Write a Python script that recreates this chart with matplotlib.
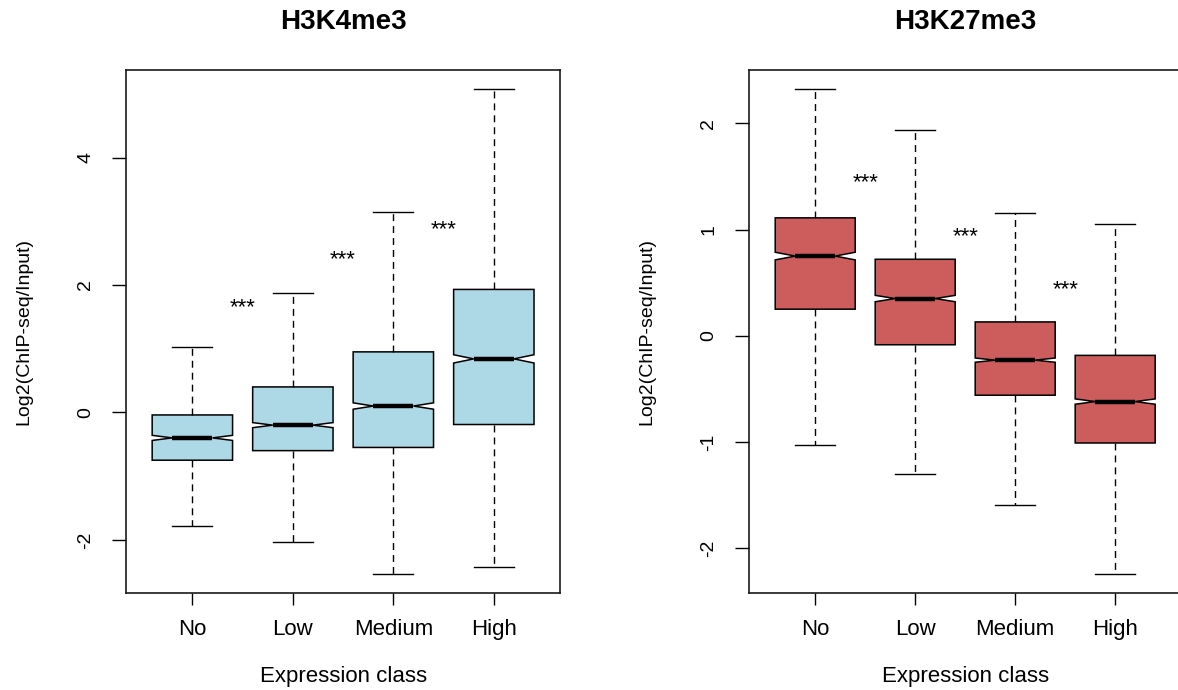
import numpy as np
import matplotlib.pyplot as plt
from matplotlib.transforms import offset_copy

plt.rcParams['font.family'] = ['Liberation Sans', 'DejaVu Sans']

classes = ['No', 'Low', 'Medium', 'High']

# H3K4me3 box statistics
k4_whislo = [-1.79, -2.04, -2.53, -2.43]
k4_q1 = [-0.75, -0.60, -0.55, -0.19]
k4_med = [-0.40, -0.20, 0.10, 0.84]
k4_q3 = [-0.04, 0.40, 0.95, 1.93]
k4_whishi = [1.02, 1.87, 3.15, 5.07]
k4_notch = [0.04, 0.04, 0.05, 0.065]
k4_stars = [1.71, 2.46, 2.93]
k4_yticks = [-2, 0, 2, 4]

# H3K27me3 box statistics
k27_whislo = [-1.03, -1.30, -1.59, -2.24]
k27_q1 = [0.25, -0.085, -0.56, -1.01]
k27_med = [0.75, 0.35, -0.23, -0.62]
k27_q3 = [1.11, 0.72, 0.13, -0.185]
k27_whishi = [2.32, 1.94, 1.16, 1.05]
k27_notch = [0.036, 0.03, 0.02, 0.025]
k27_stars = [1.48, 0.97, 0.47]
k27_yticks = [-2, -1, 0, 1, 2]


def panel(ax, title, whislo, q1, med, q3, whishi, notch, stars, yticks, color):
    stats = []
    for i in range(len(classes)):
        stats.append(dict(whislo=whislo[i], q1=q1[i], med=med[i], q3=q3[i],
                          whishi=whishi[i], cilo=med[i] - notch[i],
                          cihi=med[i] + notch[i], fliers=[]))
    pos = np.arange(1, len(classes) + 1)
    ax.bxp(stats, positions=pos, widths=0.8, shownotches=True, patch_artist=True,
           boxprops=dict(facecolor=color, edgecolor='black', linewidth=1.1),
           medianprops=dict(color='black', linewidth=3.2, solid_capstyle='butt'),
           whiskerprops=dict(color='black', linewidth=1.0, linestyle=(0, (5, 3.6))),
           capprops=dict(color='black', linewidth=1.0))

    # R-style limits: 4% padding
    n = len(classes)
    ax.set_xlim(0.5 - 0.04 * n, n + 0.5 + 0.04 * n)
    lo, hi = min(whislo), max(whishi)
    ax.set_ylim(lo - 0.04 * (hi - lo), hi + 0.04 * (hi - lo))

    ax.set_xticks(pos)
    ax.set_xticklabels(classes)
    ax.set_yticks(yticks)
    ax.set_yticklabels([str(t) for t in yticks])
    ax.tick_params(axis='x', length=8.6, width=1, pad=10, labelsize=16)
    ax.tick_params(axis='y', length=10, width=1, pad=13, labelsize=14, labelrotation=90)
    for lab in ax.get_yticklabels():
        lab.set_va('center')
    for s in ax.spines.values():
        s.set_linewidth(1.2)
        s.set_color('#1a1a1a')

    ax.set_title(title, fontweight='bold', fontsize=20, y=1.092, va='center', pad=0)
    ax.set_xlabel('Expression class', fontsize=16)
    ax.xaxis.label.set_va('center')
    ax.xaxis.set_label_coords(0.5, -0.159)
    ax.set_ylabel('Log2(ChIP-seq/Input)', fontsize=14)
    ax.yaxis.label.set_va('center')
    ax.yaxis.set_label_coords(-0.236, 0.5)

    tr = offset_copy(ax.transData, fig=ax.figure, x=0, y=-3, units='points')
    for i, y in enumerate(stars):
        ax.text(pos[i] + 0.5, y, '***', fontsize=16, ha='center', va='center',
                transform=tr)


fig = plt.figure(figsize=(11.78, 6.9), dpi=100)
ax1 = fig.add_axes([0.107, 0.1406, 0.3685, 0.758])
ax2 = fig.add_axes([0.636, 0.1406, 0.3667, 0.758])

panel(ax1, 'H3K4me3', k4_whislo, k4_q1, k4_med, k4_q3, k4_whishi, k4_notch,
      k4_stars, k4_yticks, '#ADD8E6')
panel(ax2, 'H3K27me3', k27_whislo, k27_q1, k27_med, k27_q3, k27_whishi, k27_notch,
      k27_stars, k27_yticks, '#CD5C5C')

fig.savefig('out.png', dpi=100)
